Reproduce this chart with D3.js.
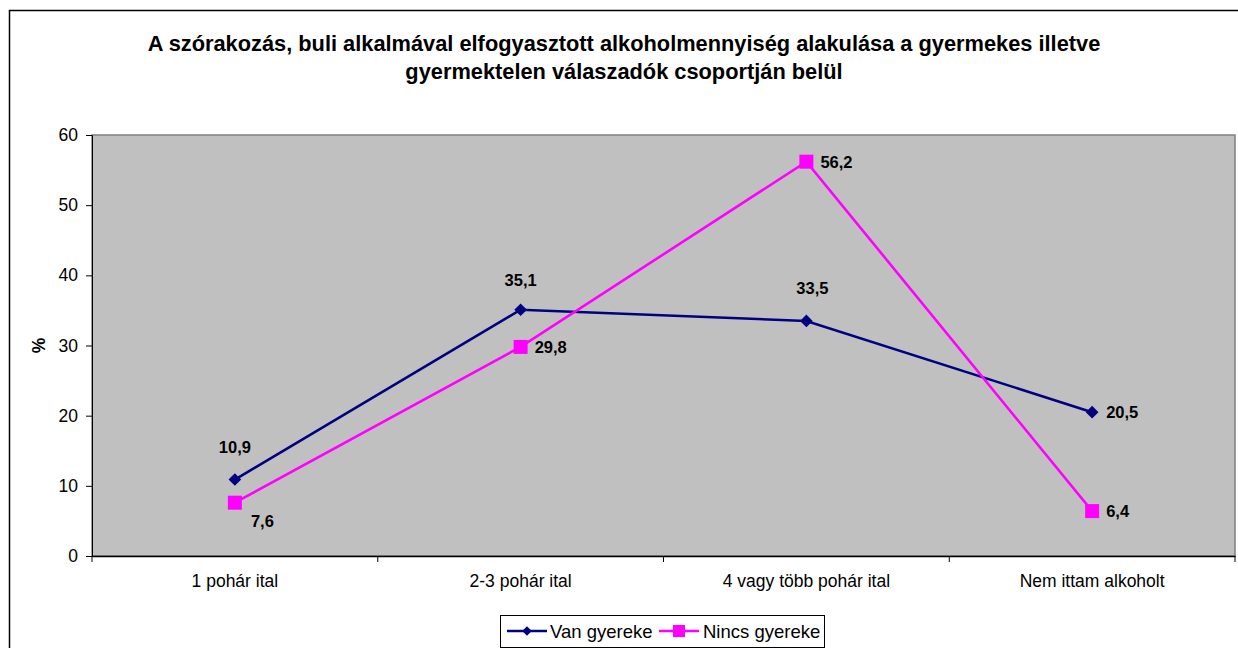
<!DOCTYPE html>
<html>
<head>
<meta charset="utf-8">
<script src="https://cdn.jsdelivr.net/npm/d3@7"></script>
<style>
  body { margin: 0; background: #fff; }
  svg { display: block; font-family: "Liberation Sans", Arial, sans-serif; }
</style>
</head>
<body>
<div id="chart"></div>
<script>
var categories = ["1 pohár ital", "2-3 pohár ital", "4 vagy több pohár ital", "Nem ittam alkoholt"];
var vanGyereke = [10.9, 35.1, 33.5, 20.5];
var nincsGyereke = [7.6, 29.8, 56.2, 6.4];
var seriesNames = ["Van gyereke", "Nincs gyereke"];
var yTicks = [0, 10, 20, 30, 40, 50, 60];
var titleLines = ["A szórakozás, buli alkalmával elfogyasztott alkoholmennyiség alakulása a gyermekes illetve",
                  "gyermektelen válaszadók csoportján belül"];

var W = 1238, H = 648;
var margin = {top: 135, right: 3, bottom: 92, left: 92};
var width = W - margin.left - margin.right;
var height = H - margin.top - margin.bottom;

var svg = d3.select("#chart").append("svg")
    .attr("width", W)
    .attr("height", H);

// outer chart frame
svg.append("rect")
    .attr("x", 9.5).attr("y", 10.5)
    .attr("width", W + 10).attr("height", H + 10)
    .attr("fill", "#fff")
    .attr("stroke", "#000")
    .attr("stroke-width", 1.5);

svg.selectAll(".title").data(titleLines).enter().append("text")
    .attr("x", 624)
    .attr("y", (d, i) => 51 + i * 28)
    .attr("text-anchor", "middle")
    .style("font-size", "21.8px")
    .style("font-weight", "bold")
    .text(d => d);

var g = svg.append("g")
    .attr("transform", "translate(" + margin.left + "," + margin.top + ")");

var x = d3.scaleBand()
    .domain(categories)
    .range([0, width]);

var y = d3.scaleLinear()
    .domain([0, 60])
    .range([height, 0]);

g.append("rect")
    .attr("width", width).attr("height", height)
    .attr("fill", "#c0c0c0")
    .attr("stroke", "#808080")
    .attr("stroke-width", 1.5);

var yAxis = g.append("g")
    .call(d3.axisLeft(y).tickValues(yTicks).tickSize(6).tickPadding(8));
yAxis.select(".domain").attr("stroke", "#000");
yAxis.selectAll("text").style("font-size", "17.5px").attr("fill", "#000");

var xAxis = g.append("g")
    .attr("transform", "translate(0," + height + ")")
    .call(d3.axisBottom(x).tickSize(0).tickPadding(18.5));
xAxis.select(".domain").attr("stroke", "#000").attr("stroke-width", 1.5);
xAxis.selectAll("text").style("font-size", "17.5px").attr("fill", "#000");

// category boundary ticks
g.selectAll(".bound").data(d3.range(categories.length + 1)).enter().append("line")
    .attr("x1", d => d * x.step()).attr("x2", d => d * x.step())
    .attr("y1", height).attr("y2", height + 6)
    .attr("stroke", "#000");

svg.append("text")
    .attr("transform", "translate(45," + (margin.top + y(30)) + ") rotate(-90)")
    .attr("text-anchor", "middle")
    .style("font-size", "17.5px")
    .style("font-weight", "bold")
    .text("%");

var cx = d => x(d) + x.bandwidth() / 2;
var line = d3.line()
    .x(d => cx(d.cat))
    .y(d => y(d.v));

var navy = "#000080", magenta = "#ff00ff";

var vanData = categories.map((c, i) => ({cat: c, v: vanGyereke[i]}));
var nincsData = categories.map((c, i) => ({cat: c, v: nincsGyereke[i]}));

g.append("path").datum(vanData)
    .attr("d", line).attr("fill", "none")
    .attr("stroke", navy).attr("stroke-width", 2.6);
g.append("path").datum(nincsData)
    .attr("d", line).attr("fill", "none")
    .attr("stroke", magenta).attr("stroke-width", 2.6);

g.selectAll(".vanpt").data(vanData).enter().append("path")
    .attr("transform", d => "translate(" + cx(d.cat) + "," + y(d.v) + ") rotate(45)")
    .attr("d", d3.symbol().type(d3.symbolSquare).size(80))
    .attr("fill", navy);

g.selectAll(".nincspt").data(nincsData).enter().append("rect")
    .attr("x", d => cx(d.cat) - 7).attr("y", d => y(d.v) - 7)
    .attr("width", 14).attr("height", 14)
    .attr("fill", magenta);

var fmt = v => String(v).replace(".", ",");

// label placement per point
var vanPos = [[0, -27, "middle"], [0, -24, "middle"], [6, -27, "middle"], [14, 6, "start"]];
var nincsPos = [[16, 24, "start"], [14, 6, "start"], [14, 6, "start"], [14, 6, "start"]];

g.selectAll(".vanlbl").data(vanData).enter().append("text")
    .attr("x", (d, i) => cx(d.cat) + vanPos[i][0])
    .attr("y", (d, i) => y(d.v) + vanPos[i][1])
    .attr("text-anchor", (d, i) => vanPos[i][2])
    .style("font-size", "16.5px").style("font-weight", "bold")
    .text(d => fmt(d.v));

g.selectAll(".nincslbl").data(nincsData).enter().append("text")
    .attr("x", (d, i) => cx(d.cat) + nincsPos[i][0])
    .attr("y", (d, i) => y(d.v) + nincsPos[i][1])
    .attr("text-anchor", (d, i) => nincsPos[i][2])
    .style("font-size", "16.5px").style("font-weight", "bold")
    .text(d => fmt(d.v));

// legend
var lg = svg.append("g").attr("transform", "translate(500,615)");
lg.append("rect")
    .attr("x", 0.5).attr("y", 0.5)
    .attr("width", 324).attr("height", 32)
    .attr("fill", "#fff").attr("stroke", "#000");

var legendItems = [
  {name: seriesNames[0], color: navy, x: 7, textX: 50},
  {name: seriesNames[1], color: magenta, x: 159, textX: 203}
];
legendItems.forEach(function(it, i) {
  lg.append("line")
    .attr("x1", it.x).attr("x2", it.x + 40)
    .attr("y1", 16).attr("y2", 16)
    .attr("stroke", it.color).attr("stroke-width", 2.5);
  if (i === 0) {
    lg.append("path")
      .attr("transform", "translate(" + (it.x + 20) + ",16) rotate(45)")
      .attr("d", d3.symbol().type(d3.symbolSquare).size(45))
      .attr("fill", it.color);
  } else {
    lg.append("rect")
      .attr("x", it.x + 14).attr("y", 10).attr("width", 12).attr("height", 12)
      .attr("fill", it.color);
  }
  lg.append("text")
    .attr("x", it.textX).attr("y", 23)
    .style("font-size", "18.5px")
    .text(it.name);
});
</script>
</body>
</html>
